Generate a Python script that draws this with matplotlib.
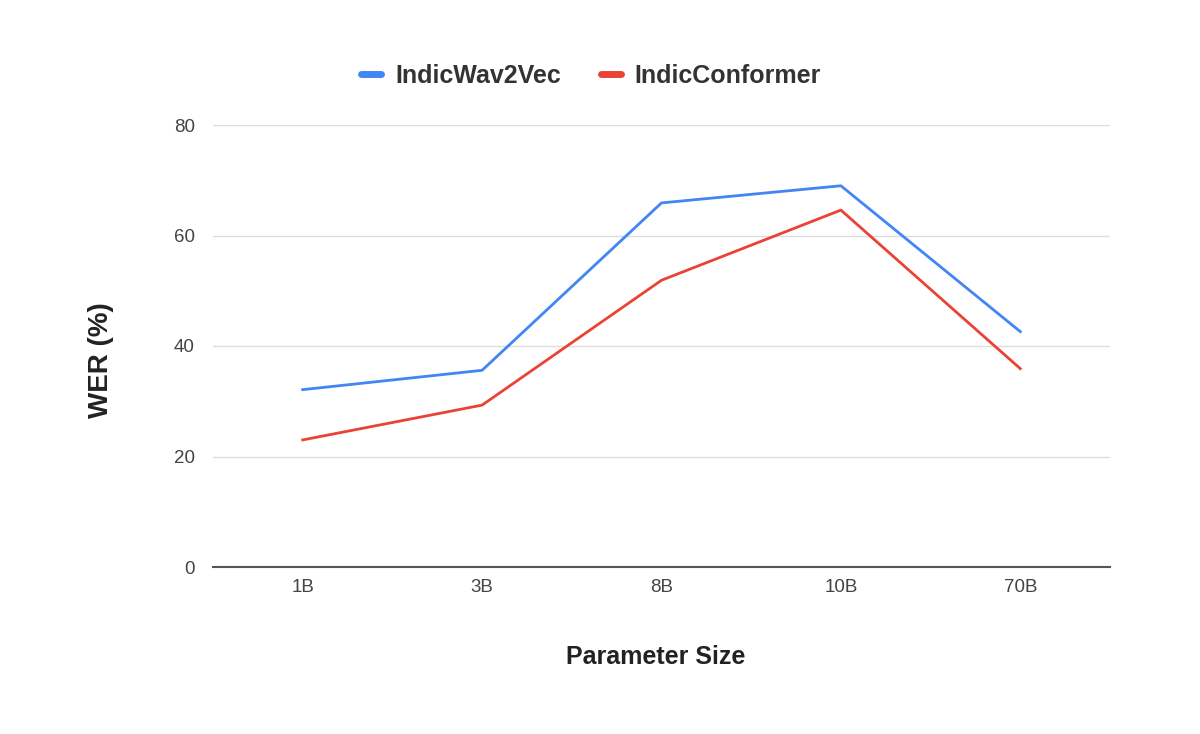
import matplotlib
matplotlib.use("Agg")
import matplotlib.pyplot as plt

plt.rcParams["font.family"] = ["Liberation Sans", "DejaVu Sans"]

# WER (%) by model parameter size
sizes = ["1B", "3B", "8B", "10B", "70B"]
wav2vec = [32.1, 35.6, 65.9, 69.0, 42.6]
conformer = [23.0, 29.3, 51.9, 64.6, 35.9]

W, H = 1200, 734
fig = plt.figure(figsize=(W / 100, H / 100), dpi=100)
ax = fig.add_axes([213 / W, 1 - 567 / H, (1110 - 213) / W, (567 - 125) / H])

x = range(len(sizes))
ax.plot(x, wav2vec, color="#4285F4", lw=2, label="IndicWav2Vec")
ax.plot(x, conformer, color="#EA4335", lw=2, label="IndicConformer")

ax.set_xlim(-0.5, len(sizes) - 0.5)
ax.set_ylim(0, 80)
ax.set_yticks([0, 20, 40, 60, 80])
ax.set_xticks(list(x))
ax.set_xticklabels(sizes)
ax.grid(axis="y", color="#dddddd", lw=1)
ax.set_axisbelow(True)
for s in ["top", "right", "left"]:
    ax.spines[s].set_visible(False)
ax.spines["bottom"].set_color("#555555")
ax.spines["bottom"].set_linewidth(1.5)
ax.tick_params(length=0, labelsize=13.5, colors="#444444")
ax.tick_params(axis="x", pad=9)
ax.tick_params(axis="y", pad=13)

fig.text(101 / W, 1 - 360 / H, "WER (%)", rotation=90, ha="center", va="center",
         fontsize=20, fontweight="bold", color="#222222")
fig.text(656 / W, 1 - 657 / H, "Parameter Size", ha="center", va="center",
         fontsize=18, fontweight="bold", color="#222222")

leg = fig.legend(loc="center", bbox_to_anchor=(591 / W, 1 - 76 / H), ncol=2,
                 frameon=False, handlelength=0.8, handletextpad=0.55,
                 columnspacing=1.6, prop={"weight": "bold", "size": 18})
for t in leg.get_texts():
    t.set_color("#333333")
for h in leg.get_lines():
    h.set_linewidth(5)
    h.set_solid_capstyle("round")

fig.savefig("out.png", dpi=100)
